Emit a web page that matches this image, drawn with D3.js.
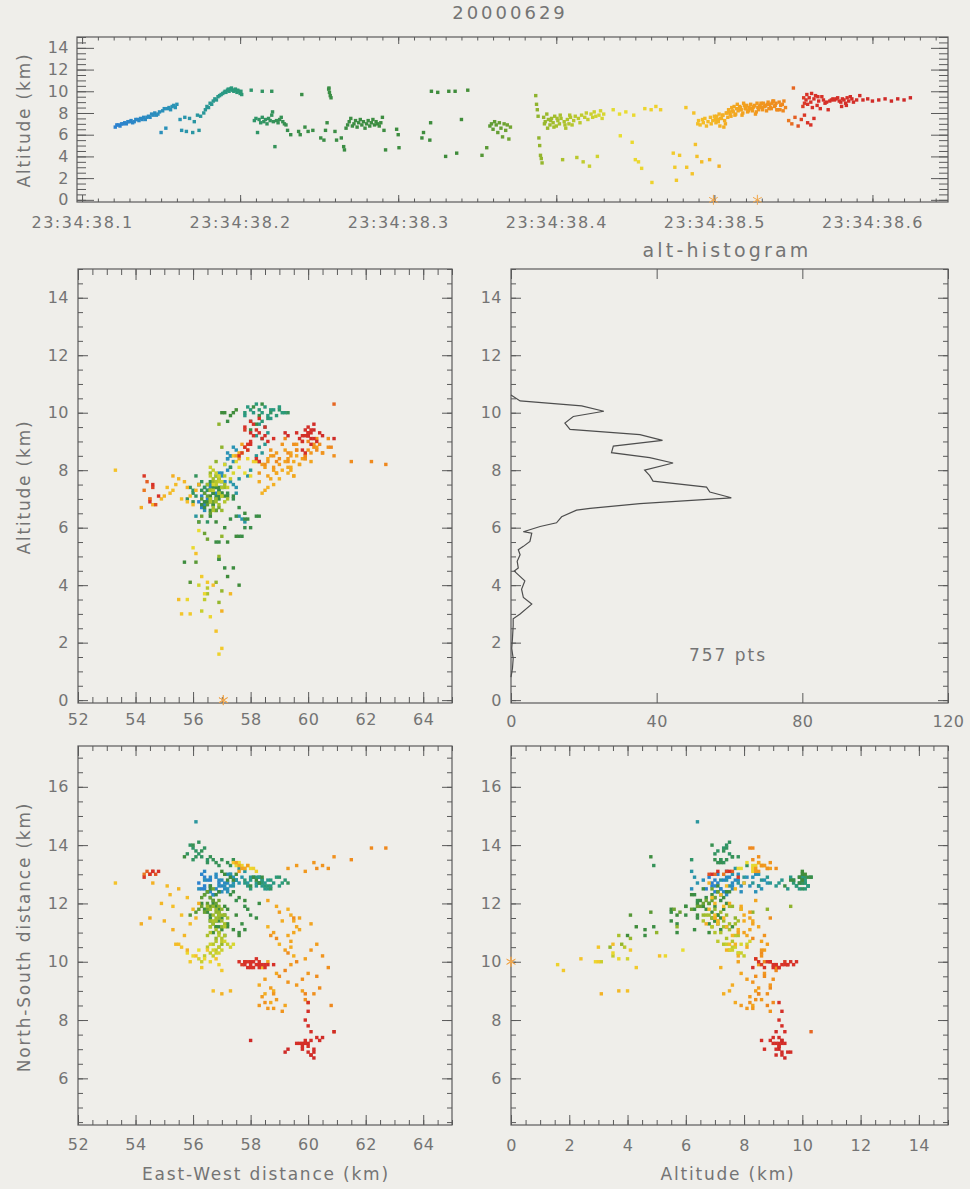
<!DOCTYPE html>
<html>
<head>
<meta charset="utf-8">
<script src="https://cdn.jsdelivr.net/npm/d3@7"></script>
<style>
body { margin: 0; background: #efeeea; }
svg { display: block; font-family: "DejaVu Sans", sans-serif; }
</style>
</head>
<body>
<svg id="chart" width="970" height="1189"></svg>
<script>
// each source: [time (ms after 23:34:38), east-west km, north-south km, altitude km]
const blueLeader = [
  [121,56.3,12.5,6.7],[122,56.2,12.7,6.9],[123,56.4,12.6,6.9],[124,56.4,12.9,6.8],[125,56.5,12.4,7.0],
  [126,56.6,12.8,7.0],[127,56.3,13.0,7.1],[128,56.6,12.6,7.0],[129,56.4,12.5,7.2],[130,56.7,12.3,7.2],
  [131,56.5,12.8,7.3],[132,56.9,12.7,7.1],[133,56.8,12.5,7.2],[134,56.4,13.1,7.4],[135,56.6,12.4,7.4],
  [136,56.9,12.4,7.3],[137,56.6,12.9,7.5],[138,56.8,12.9,7.4],[139,57.0,12.6,7.6],[140,56.7,12.3,7.4],
  [141,57.1,12.7,7.6],[142,56.9,12.8,7.7],[143,57.1,12.5,7.6],[144,56.9,12.6,7.9],[145,56.8,13.0,7.8],
  [146,57.2,12.7,8.0],[147,57.0,12.8,7.8],[148,57.0,12.4,7.9],[149,57.3,12.9,8.1],[150,56.2,12.5,6.2],
  [151,57.1,12.6,8.2],[152,57.2,13.0,8.4],[153,56.4,12.8,6.6],[154,57.2,12.4,8.4],[155,57.3,12.6,8.5],
  [156,57.4,12.9,8.3],[157,57.2,12.5,8.6],[158,57.5,12.8,8.7],[159,57.3,13.0,8.5],[160,57.4,12.7,8.8]
];
const tealScatter = [
  [162,57.5,12.8,7.4],[163,57.6,12.7,6.4],[165,57.3,13.0,7.6],[166,57.7,12.9,6.3],[168,57.4,12.6,7.5],
  [170,57.8,13.1,6.2],[171,57.5,12.8,7.2],[173,57.9,12.7,7.8],[174,56.1,14.8,6.4],[175,57.6,13.2,7.7],
  [177,58.0,12.9,8.0]
];
const tealRise = [
  [178,58.3,12.7,8.3],[179,58.4,12.8,8.6],[180,58.2,12.6,8.5],[181,58.5,12.7,8.9],[182,58.3,12.9,8.8],
  [183,58.4,12.6,9.1],[184,58.6,12.8,9.3],[185,58.2,12.7,9.2],[186,58.5,12.5,9.5],[187,58.3,12.9,9.6],
  [188,58.0,12.8,9.7],[189,58.7,12.6,9.8],[190,57.8,12.7,9.9],[190.5,58.1,12.9,10.0],[191,58.6,12.5,9.9],
  [192,58.8,12.7,10.1],[192.5,57.9,12.6,10.2],[193,58.4,12.8,10.0],[194,59.0,12.6,10.2],[194.5,58.2,12.9,10.3],
  [195,58.7,12.8,10.1],[196,59.1,12.7,10.0],[196.5,58.0,12.5,10.1],[197,58.5,12.6,10.2],[198,58.9,12.9,9.9],
  [198.5,58.3,12.7,10.1],[199,57.8,12.8,10.0],[200,58.6,12.6,9.8],[200.5,59.2,12.8,10.0],[201,58.4,12.7,9.7]
];
const greenHigh = [
  [207,59.0,12.9,10.1],[214,58.7,12.5,10.0],[220,59.3,12.7,10.0],[239,57.2,12.8,9.7],
  [256,58.1,12.9,10.2],[256.2,58.4,12.9,10.3],[256.5,58.3,12.7,9.9],[257,58.2,12.8,9.6],[257.5,58.0,12.6,9.4]
];
const greenUpper = [
  [209,56.0,13.9,7.3],[210,56.2,13.7,7.5],[211,56.5,13.5,6.2],[212,55.9,14.0,7.4],[213,56.1,13.8,7.1],
  [214,56.3,13.6,7.6],[215,56.0,13.5,7.2],[216,56.4,13.9,7.4],[217,55.8,13.7,7.0],[218,56.2,14.1,7.5],
  [219,56.5,13.4,7.3],[220,56.1,13.6,7.8],[220.5,57.3,13.3,8.1],[221,56.7,13.5,7.2],[222,56.9,13.3,4.9],
  [223,56.3,13.8,7.3],[224,56.8,13.4,7.1],[225,57.0,13.5,7.4],[226,56.6,13.6,7.6],[227,57.2,13.4,7.2],
  [228,57.4,13.5,7.0],[229,56.0,14.0,6.9]
];
const greenLow = [
  [230,57.5,12.1,6.4],[232,57.8,11.9,6.0],[237,57.3,12.3,6.3],[238,58.0,11.6,6.0],[241,57.6,12.2,6.7],
  [243,57.9,11.8,6.3],[246,58.2,11.5,6.4],[251,57.7,11.3,5.7],[253,56.9,11.7,5.5],[254,58.3,12.0,6.4],
  [255,57.4,12.4,7.1],[260,57.8,11.1,6.3],[261,56.8,11.4,5.5],[264,57.6,11.0,5.7],[265.5,56.9,11.2,4.9],
  [266,57.1,10.9,4.6]
];
const greenChannel = [
  [267,56.6,12.5,6.6],[268,56.4,12.3,6.9],[269,56.7,12.1,7.2],[270,56.5,12.4,7.5],[271,56.3,12.0,6.8],
  [272,56.8,11.9,7.0],[273,56.6,12.2,7.3],[274,56.4,11.8,6.7],[275,56.9,11.6,7.1],[276,56.7,12.0,7.4],
  [277,56.5,11.7,6.9],[278,57.0,11.5,7.2],[279,56.8,11.9,6.6],[280,56.6,11.4,7.0],[281,56.9,11.8,7.3],
  [282,56.7,11.3,6.8],[283,57.1,11.6,7.1],[284,56.8,11.2,7.4],[285,56.6,11.5,6.9],[286,57.0,11.1,7.2],
  [287,56.9,11.4,7.0],[288,56.7,11.0,6.8],[289,57.2,11.3,7.1],[290,56.8,11.2,7.6],[291,56.6,11.6,6.4]
];
const greenSparse = [
  [292,57.4,11.1,4.6],[299,57.8,12.1,6.5],[300,57.1,11.9,6.0],[300.5,55.7,13.6,4.8],[315,57.5,11.6,5.7],
  [316,56.8,12.3,6.2],[320,57.2,11.8,5.5],[320.5,56.6,12.6,7.1],[321,57.1,13.0,10.0],[325,57.3,12.9,9.9],
  [330,57.6,10.9,4.0],[332,57.0,13.1,10.0],[336,57.4,12.8,10.0],[337,57.2,11.2,4.3],[340,56.9,12.4,7.4],
  [344,57.5,13.0,10.1]
];
const greenLate = [
  [353,55.9,11.6,4.1],[356,56.1,11.7,4.8],[358,56.5,12.0,6.8],[359,56.3,12.2,7.0],[360,56.6,11.9,6.5],
  [361,56.4,12.3,7.2],[362,56.7,12.1,6.9],[363,56.2,11.8,6.2],[364,56.5,12.4,7.1],[365,56.8,12.0,6.6],
  [366,56.4,11.7,5.8],[367,56.6,12.2,7.0],[368,56.3,11.9,6.4],[369,56.7,12.5,6.9],[370,56.5,11.8,5.6],
  [371,56.9,12.1,6.7]
];
const olivStep = [
  [387,56.9,11.9,9.6],[387.5,57.0,11.8,8.8],[388,56.8,11.7,8.3],[388.5,56.9,11.5,7.7],[389,57.0,11.2,5.7],
  [389.5,56.9,11.0,5.0],[390,56.8,10.8,4.1],[390.5,57.0,10.6,3.8],[391,56.9,10.5,3.4]
];
const olivCluster = [
  [392,56.7,11.9,7.6],[392.5,56.8,11.8,7.0],[393,56.9,11.7,7.2],[394,56.6,11.8,7.9],[394.5,57.0,11.6,6.6],
  [395,57.1,11.6,7.4],[396,56.8,11.5,6.9],[396.5,56.6,11.4,7.3],[397,56.5,11.9,7.5],[398,57.0,11.4,7.1],
  [398.5,56.7,11.6,6.7],[399,56.7,11.3,7.7],[400,56.9,11.6,6.8],[400.5,57.1,11.3,7.5],[401,56.6,11.2,7.3],
  [402,57.2,11.5,7.0],[402.5,56.8,11.4,7.8],[403,56.8,11.1,7.5],[404,56.5,10.9,3.7],[405,56.9,11.0,7.2],
  [405.5,56.6,11.2,6.9],[406,56.7,11.4,6.6],[407,57.0,10.8,7.4],[408,56.6,11.0,7.0],[408.5,57.1,10.9,7.8],
  [409,56.8,10.7,7.6],[410,57.1,11.2,6.9],[411,56.7,10.6,7.3],[412,56.9,10.9,7.7],[413,56.5,10.5,3.9],
  [414,56.8,10.4,7.5],[415,57.0,10.7,7.1],[416,56.6,10.3,7.8],[417,56.4,10.2,3.5],[418,56.9,10.5,7.6],
  [419,56.7,10.2,8.0],[420,57.2,10.6,7.4],[421,56.3,10.0,3.1],[422,56.8,10.3,7.9],[423,57.0,10.4,7.6],
  [424,56.6,10.6,8.1],[425,57.3,10.5,7.7],[426,56.2,10.1,4.0],[427,56.9,10.3,7.8],[428,57.1,10.7,8.2],
  [429,56.7,10.4,7.5],[430,57.4,10.6,7.9]
];
const yellowUpper = [
  [436,57.5,13.3,8.3],[440,57.8,13.2,7.9],[444,57.6,13.4,8.1],[449,58.0,13.2,7.8],[456,57.9,13.3,8.4],
  [460,58.2,13.1,8.3],[463,57.7,13.3,8.6],[466,58.1,13.2,8.3],[482,57.4,13.4,8.5]
];
const yellowLow = [
  [440.5,56.2,10.4,5.9],[448,56.0,10.2,5.3],[450,56.4,10.1,3.7],[452,55.8,10.3,3.5],[454,56.6,10.0,2.9],
  [460.5,56.9,9.9,1.6],[474,56.3,9.8,4.3],[475,55.9,10.0,3.0],[476,57.0,9.7,1.8],[478,56.5,10.4,4.1],
  [482.5,55.6,10.5,3.0],[486,56.8,10.1,2.4],[488,56.1,10.2,5.1],[489,56.7,9.0,4.0],[492,55.5,10.6,3.5],
  [497,57.3,9.0,3.7],[503,57.0,8.9,3.1]
];
const orangeWest = [
  [487,53.3,12.7,8.0],[489.5,55.6,11.6,7.0],[490,55.3,11.9,7.3],[491,55.8,12.2,6.9],[492.5,55.1,12.6,7.4],
  [493,55.9,11.3,7.1],[494,55.4,10.6,7.5],[495,56.0,11.8,6.8],[496,55.2,12.3,7.2],[497.5,55.7,10.9,7.6],
  [498,54.9,12.0,7.0],[499,56.1,11.5,7.3],[500,55.5,12.5,7.7],[501,55.0,11.4,7.1],[502,55.8,10.4,7.4],
  [503.5,54.6,12.7,6.8],[504,56.2,12.0,7.5],[505,55.3,11.1,7.8],[506,54.2,11.3,6.7],[507,54.5,11.5,7.0]
];
const orangeEast = [
  [500.5,58.6,11.2,7.4],[501.5,59.0,10.6,7.7],[502.5,58.4,9.8,7.2],[503,59.3,11.8,7.9],[504.5,58.8,9.0,7.5],
  [505.5,59.5,10.2,7.8],[506.5,58.5,8.9,7.3],[507.5,59.1,11.4,8.0],[508,59.4,11.6,8.0],[508.5,58.3,9.2,7.6],
  [509,59.5,11.4,8.3],[509.5,59.4,10.5,8.1],[510,58.9,11.9,7.9],[510.5,58.7,8.6,7.7],[511,59.6,11.2,8.5],
  [511.5,59.7,11.1,8.2],[512,59.3,10.9,8.1],[513,59.5,11.0,7.8],[513.5,58.9,9.6,7.9],[514,58.6,12.1,8.4],
  [515,59.7,11.5,8.2],[515.5,59.2,8.5,8.3],[516,59.4,10.7,8.6],[517,60.1,11.3,8.3],[517.5,58.6,10.0,7.8],
  [518,58.8,11.0,8.0],[519,59.2,10.4,8.7],[519.5,59.8,9.0,8.4],[520,59.9,10.1,8.4],[521,58.5,9.4,8.1],
  [521.5,59.0,11.7,8.2],[522,58.7,9.1,8.5],[523,60.3,10.6,8.8],[524,58.4,8.8,8.2],[524.5,59.4,9.9,8.5],
  [525,58.9,8.7,8.6],[526,58.3,8.5,7.9],[526.5,58.8,8.4,8.1],[527,59.6,9.2,8.9],[528,58.6,8.4,8.3],
  [528.5,60.1,10.4,8.6],[529,60.0,9.6,8.7],[530,58.8,8.9,8.5],[530.5,59.3,9.3,8.3],[531,59.1,8.3,8.9],
  [532,60.5,10.2,8.6],[532.5,58.7,10.9,8.7],[533,58.5,8.6,8.2],[534,59.8,9.4,9.0],[534.5,59.9,8.7,8.4],
  [535,60.2,8.9,8.8],[536,59.0,9.5,8.4],[536.5,59.5,11.5,8.9],[537,60.7,9.8,9.1],[538,59.3,10.3,8.6],
  [538.5,60.3,9.5,8.7],[539,60.4,9.1,8.9],[540,58.9,10.8,8.3],[541,60.0,8.6,9.0],[542,59.6,10.0,8.7],
  [543,60.8,8.5,8.8],[544,59.2,9.7,9.1],[545,59.9,8.9,8.5]
];
const orangeNorth = [
  [512.5,57.6,13.3,8.6],[514.5,57.8,13.2,8.8],[516.5,57.5,13.4,8.5],[518.5,57.7,13.2,8.9],[520.5,57.9,13.3,8.7],
  [522.5,57.6,13.1,8.4],[523.5,59.3,13.2,8.4],[525.5,59.6,13.3,8.7],[527.5,59.9,13.1,8.5],[529.5,60.2,13.4,8.9],
  [531.5,60.5,13.3,8.6],[533.5,60.7,13.2,8.8],[535.5,60.9,13.6,8.5],[537.5,60.3,13.2,9.1],[539.5,61.5,13.5,8.3],
  [541.5,62.2,13.9,8.3],[543.5,62.7,13.9,8.2]
];
const redWest = [
  [547,54.3,13.0,7.3],[549,54.5,13.0,7.0],[551,54.4,13.1,7.6],[553,54.7,13.0,6.8],[555,54.6,13.1,7.4],
  [557,54.3,12.9,7.8],[559,54.8,13.1,7.1],[561,54.5,13.0,6.9],[563,54.6,13.1,7.5]
];
const redMid = [
  [550,60.9,7.6,10.3],[556,57.7,9.9,8.6],[556.5,57.8,10.0,9.4],[557,57.9,10.0,8.9],[558,58.1,9.8,9.2],
  [558.5,58.0,9.9,9.7],[559,57.8,10.0,8.8],[560,58.2,9.9,9.4],[561,58.0,9.8,9.0],[561.5,58.3,10.0,9.8],
  [562,57.6,10.0,8.5],[563,58.3,9.9,9.3],[564,58.1,10.0,9.6],[565,57.9,9.8,8.7],[565.5,58.5,9.9,9.5],
  [566,58.4,9.9,9.1],[567,58.2,10.1,8.4],[568,57.8,9.9,9.5],[569,58.5,9.8,9.2],[570,58.0,10.0,8.9],
  [571,58.6,9.9,9.0],[572,58.3,9.8,8.3],[573,58.8,9.9,9.1]
];
const redSouth = [
  [574,60.0,8.6,9.2],[575,60.0,8.3,9.3],[576,59.9,8.0,9.2],[577,60.0,7.8,9.3],[578,60.1,7.6,9.4],
  [579,59.7,7.2,9.1],[580,59.8,7.2,9.0],[580.5,59.9,7.3,8.6],[581,59.6,7.2,9.3],[582,60.0,7.1,9.2],
  [583,60.1,7.3,8.9],[583.5,59.8,7.0,8.7],[584,59.9,7.2,9.4],[585,60.2,7.0,9.1],[586,60.0,6.9,9.5],
  [587,60.1,6.8,9.3],[588,60.3,7.4,9.0],[590,59.8,7.1,9.2],[592,60.2,6.9,9.6],[594,60.0,7.2,9.2],
  [597,60.4,7.3,9.3],[600,60.1,6.8,9.1],[604,60.5,7.4,9.2],[608,59.2,6.9,9.3],[612,60.9,7.6,9.1],
  [616,58.0,7.3,9.3],[620,59.3,7.0,9.2],[624,60.2,6.7,9.4]
];
// ground strike markers (asterisks)
const groundStrikes = [[499.4,57.05,10.0,0],[527.2,57.05,10.0,0]];

// altitude histogram
const histAlt   = [0.8,1.1,1.45,1.8,2.14,2.6,2.83,3.0,3.34,3.57,3.86,4.15,4.49,4.6,4.83,5.06,5.23,5.35,5.52,5.81,5.86,6.04,6.17,6.38,6.61,6.67,6.84,7.04,7.24,7.41,7.62,7.81,8.0,8.25,8.44,8.61,8.84,9.04,9.24,9.42,9.64,9.87,10.05,10.24,10.41,10.62];
const histCount = [0,0.4,0.6,0.2,0.4,0.6,0.6,2.5,5.7,3.4,2.9,3.8,0.9,2.0,1.7,2.5,2.0,3.4,5.2,5.7,3.4,8.0,12.5,13.9,18.0,21.7,35.4,60.5,54.6,53.7,39.0,38.1,36.7,44.5,38.1,27.6,28.1,41.6,35.4,16.2,14.8,17.1,25.5,19.4,2.5,0];

// time colour table
const colorTimes = [120,160,195,235,340,395,440,485,520,545,558,630];
const colorList  = ['#2c80d0','#2a94b4','#2a9a7c','#3a8e48','#3f8c3a','#9cba2c','#e8de30','#f4c42a','#f2a01e','#ee861e','#d83228','#cc2828'];

const timeTicks = [100,200,300,400,500,600];
const altTicks = [0,2,4,6,8,10,12,14];
const ewTicks = [52,54,56,58,60,62,64];
const nsTicks = [6,8,10,12,14,16];
const histTicks = [0,40,80,120];

const svg = d3.select("#chart");
svg.append("rect").attr("width",970).attr("height",1189).attr("fill","#efeeea");

const textCol = "#747474", lineCol = "#5a5a5a";

const sources = [].concat(blueLeader, tealScatter, tealRise, greenHigh, greenUpper, greenLow, greenChannel,
  greenSparse, greenLate, olivStep, olivCluster, yellowUpper, yellowLow, orangeWest, orangeEast,
  orangeNorth, redWest, redMid, redSouth).sort((a,b) => a[0]-b[0]);

const color = d3.scaleLinear().domain(colorTimes).range(colorList).clamp(true);

// panel boxes
const boxTop = {x0:77, x1:948, y0:37, y1:202};
const boxML = {x0:78, x1:452, y0:269, y1:703};
const boxMR = {x0:511, x1:948, y0:269, y1:703};
const boxBL = {x0:78, x1:452, y0:746, y1:1125};
const boxBR = {x0:511, x1:948, y0:746, y1:1125};

const tX = d3.scaleLinear().domain([96.8,647.8]).range([boxTop.x0, boxTop.x1]);
const tAlt = d3.scaleLinear().domain([-0.2,15]).range([boxTop.y1, boxTop.y0]);
const ewX = d3.scaleLinear().domain([52,65]).range([boxML.x0, boxML.x1]);
const altY = d3.scaleLinear().domain([-0.1,15]).range([boxML.y1, boxML.y0]);
const histX = d3.scaleLinear().domain([0,120]).range([boxMR.x0, boxMR.x1]);
const ewX2 = d3.scaleLinear().domain([52,65]).range([boxBL.x0, boxBL.x1]);
const nsY = d3.scaleLinear().domain([4.4,17.4]).range([boxBL.y1, boxBL.y0]);
const altX = d3.scaleLinear().domain([0,15]).range([boxBR.x0, boxBR.x1]);

function styleAxis(a, size, spacing) {
  a.select(".domain").remove();
  a.selectAll("line").attr("stroke", lineCol);
  a.selectAll("text").attr("fill", textCol)
    .style("font-family", '"DejaVu Sans", sans-serif')
    .style("font-size", size + "px")
    .style("letter-spacing", spacing + "px");
}

function addTicks(g, axisFn, scale, tr, values, len, fmt, pad, size, spacing) {
  g.append("g").attr("transform", tr)
    .call(axisFn(scale).tickValues(values).tickSize(-len).tickPadding(pad || 0).tickFormat(fmt || (() => "")))
    .call(a => styleAxis(a, size || 16, spacing || 0));
}

function frame(box, xs, ys, c) {
  const g = svg.append("g");
  const b = `translate(0,${box.y1})`, t = `translate(0,${box.y0})`;
  const l = `translate(${box.x0},0)`, r = `translate(${box.x1},0)`;
  if (c.xMinor) {
    addTicks(g, d3.axisBottom, xs, b, c.xMinor, c.xMinLen);
    addTicks(g, d3.axisTop, xs, t, c.xMinor, c.xMinLen);
  }
  addTicks(g, d3.axisBottom, xs, b, c.xMajor, c.xLen, c.xFmt, c.xPad, 16, c.xSpacing);
  addTicks(g, d3.axisTop, xs, t, c.xMajor, c.xLen);
  addTicks(g, d3.axisLeft, ys, l, c.yMinor, c.yMinLen);
  addTicks(g, d3.axisRight, ys, r, c.yMinor, c.yMinLen);
  addTicks(g, d3.axisLeft, ys, l, c.yMajor, c.yLen, c.yFmt, c.yPad, 16, 0.5);
  addTicks(g, d3.axisRight, ys, r, c.yMajor, c.yLen);
  g.append("rect")
    .attr("x", box.x0).attr("y", box.y0)
    .attr("width", box.x1 - box.x0).attr("height", box.y1 - box.y0)
    .attr("fill", "none").attr("stroke", lineCol).attr("stroke-width", 1.2);
  return g;
}

const kmMinor = d3.range(0, 15.01, 0.5);
const num = d3.format("d");

frame(boxTop, tX, tAlt, {
  xMajor: timeTicks, xMinor: d3.range(100, 641, 10), xLen: 7, xMinLen: 3.5,
  xFmt: d => "23:34:38." + (d / 100), xPad: 15, xSpacing: 1.5,
  yMajor: altTicks, yMinor: kmMinor, yLen: 17, yMinLen: 9, yFmt: num, yPad: 8
});
frame(boxML, ewX, altY, {
  xMajor: ewTicks, xMinor: d3.range(52, 65.01, 0.5), xLen: 11, xMinLen: 6,
  xFmt: num, xPad: 11, xSpacing: 0.5,
  yMajor: altTicks, yMinor: kmMinor, yLen: 10, yMinLen: 5, yFmt: num, yPad: 9
});
frame(boxMR, histX, altY, {
  xMajor: histTicks, xMinor: null, xLen: 10, xMinLen: 0,
  xFmt: num, xPad: 13, xSpacing: 0.5,
  yMajor: altTicks, yMinor: kmMinor, yLen: 10, yMinLen: 5, yFmt: num, yPad: 9
});
frame(boxBL, ewX2, nsY, {
  xMajor: ewTicks, xMinor: d3.range(52, 65.01, 0.5), xLen: 10, xMinLen: 5,
  xFmt: num, xPad: 14, xSpacing: 0.5,
  yMajor: nsTicks, yMinor: d3.range(4.5, 17.4, 0.5), yLen: 10, yMinLen: 5, yFmt: num, yPad: 9
});
frame(boxBR, altX, nsY, {
  xMajor: altTicks, xMinor: kmMinor, xLen: 10, xMinLen: 5,
  xFmt: num, xPad: 15, xSpacing: 0.5,
  yMajor: nsTicks, yMinor: d3.range(4.5, 17.4, 0.5), yLen: 10, yMinLen: 5, yFmt: num, yPad: 9
});

// scatter helper: ix / iy are indices into a source row
function scatter(xs, ys, ix, iy) {
  svg.append("g").selectAll("rect")
    .data(sources)
    .join("rect")
    .attr("x", d => xs(d[ix]) - 1.7)
    .attr("y", d => ys(d[iy]) - 1.7)
    .attr("width", 3.4).attr("height", 3.4)
    .attr("fill", d => color(d[0]));
}
function strikes(xs, ys, ix, iy) {
  svg.append("g").selectAll("path")
    .data(groundStrikes)
    .join("path")
    .attr("transform", d => `translate(${xs(d[ix])},${ys(d[iy])})`)
    .attr("d", d3.symbol(d3.symbolAsterisk, 70))
    .attr("fill", "none").attr("stroke", "#f1a64a").attr("stroke-width", 1);
}

scatter(tX, tAlt, 0, 3);
strikes(tX, tAlt, 0, 3);
scatter(ewX, altY, 1, 3);
strikes(ewX, altY, 1, 3);
scatter(ewX2, nsY, 1, 2);
scatter(altX, nsY, 3, 2);
strikes(altX, nsY, 3, 2);

// histogram curve
const hist = histAlt.map((a, i) => [histCount[i], a]);
svg.append("path")
  .datum(hist)
  .attr("fill", "none")
  .attr("stroke", "#4e4e4e")
  .attr("stroke-width", 1.2)
  .attr("d", d3.line().x(d => histX(d[0])).y(d => altY(d[1])));

// texts
function label(x, y, txt, size, spacing, rot) {
  const t = svg.append("text")
    .attr("x", x).attr("y", y)
    .attr("text-anchor", "middle")
    .attr("fill", textCol)
    .style("font-size", size + "px")
    .style("letter-spacing", spacing + "px")
    .text(txt);
  if (rot) t.attr("transform", `rotate(-90,${x},${y})`);
  return t;
}
label(510, 19, "20000629", 18, 3);
label(727, 257, "alt-histogram", 19, 3.2);
label(728, 661, "757 pts", 17, 2);
label(30, 120, "Altitude (km)", 17, 1.8, true);
label(30, 487, "Altitude (km)", 17, 1.8, true);
label(30, 937, "North-South distance (km)", 17, 1.8, true);
label(266, 1180, "East-West distance (km)", 17, 1.8);
label(728, 1180, "Altitude (km)", 17, 1.8);
</script>
</body>
</html>
